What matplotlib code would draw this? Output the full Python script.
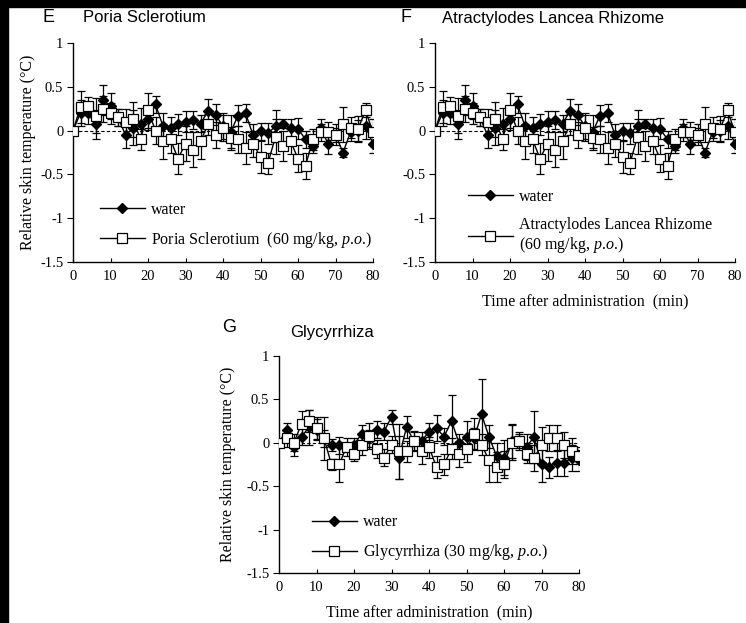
import matplotlib
matplotlib.use("Agg")
import matplotlib.pyplot as plt
from matplotlib.patches import Rectangle
from matplotlib.lines import Line2D
import numpy as np

plt.rcParams['font.family'] = 'Liberation Serif'
plt.rcParams['mathtext.fontset'] = 'custom'
plt.rcParams['mathtext.rm'] = 'Liberation Serif'
plt.rcParams['mathtext.it'] = 'Liberation Serif:italic'
plt.rcParams['axes.unicode_minus'] = False

time = np.arange(0, 82, 2)

# panels E and F (same values in the figure)
water_ef = [0, 0.2, 0.2, 0.07, 0.35, 0.28, 0.15, -0.05, 0.03, 0.08, 0.13, 0.3, 0.05, 0.03,
            0.07, 0.1, 0.12, 0.08, 0.22, 0.18, 0.05, -0.02, 0.17, 0.2, -0.05, -0.01, -0.03,
            0.05, 0.08, 0.03, 0.02, -0.1, -0.18, 0.03, -0.15, -0.05, -0.25, -0.02, 0.0, 0.05, -0.15]
water_ef_err = [0, 0.15, 0.12, 0.17, 0.17, 0.15, 0.1, 0.15, 0.2, 0.18, 0.12, 0.1, 0.15, 0.12,
                0.12, 0.12, 0.1, 0.1, 0.14, 0.12, 0.15, 0.2, 0.12, 0.1, 0.12, 0.1, 0.12,
                0.18, 0.05, 0.1, 0.12, 0.1, 0.08, 0.1, 0.12, 0.08, 0.05, 0.1, 0.12, 0.15, 0.1]
treat_ef = [0, 0.27, 0.28, 0.17, 0.25, 0.2, 0.15, 0.1, 0.13, -0.1, 0.23, 0.0, -0.12, -0.1,
            -0.32, -0.15, -0.22, -0.12, 0.07, -0.05, 0.03, -0.08, -0.1, -0.2, -0.15, -0.3, -0.37,
            -0.07, -0.18, -0.12, -0.32, -0.4, -0.1, -0.02, -0.02, -0.05, 0.07, 0.03, 0.02, 0.23, -0.02]
treat_ef_err = [0, 0.18, 0.1, 0.2, 0.15, 0.12, 0.1, 0.15, 0.2, 0.12, 0.2, 0.15, 0.2, 0.15,
                0.18, 0.2, 0.2, 0.2, 0.12, 0.15, 0.15, 0.12, 0.15, 0.18, 0.15, 0.18, 0.12,
                0.2, 0.17, 0.15, 0.15, 0.15, 0.12, 0.1, 0.12, 0.12, 0.2, 0.12, 0.15, 0.08, 0.15]

# panel G
water_g = [0, 0.15, -0.05, 0.07, 0.18, 0.15, 0.05, -0.03, -0.03, -0.05, -0.02, 0.1, 0.05, 0.15,
           0.13, 0.3, -0.17, 0.18, 0.02, 0.02, 0.13, 0.17, 0.07, 0.25, 0.0, 0.07, 0.05,
           0.33, 0.07, -0.15, -0.17, 0.02, 0.02, -0.05, 0.07, -0.25, -0.28, -0.23, -0.23, -0.18, -0.2]
water_g_err = [0, 0.08, 0.1, 0.1, 0.2, 0.12, 0.1, 0.07, 0.1, 0.1, 0.08, 0.1, 0.1, 0.1,
               0.1, 0.08, 0.25, 0.13, 0.1, 0.1, 0.1, 0.15, 0.1, 0.3, 0.1, 0.18, 0.12,
               0.4, 0.13, 0.15, 0.2, 0.2, 0.1, 0.15, 0.3, 0.2, 0.12, 0.15, 0.15, 0.15, 0.12]
treat_g = [0, 0.05, 0.0, 0.22, 0.25, 0.17, 0.05, -0.25, -0.25, -0.05, -0.13, -0.02, 0.08, -0.07,
           -0.17, -0.02, -0.1, -0.1, 0.02, -0.1, -0.05, -0.28, -0.25, -0.07, -0.13, -0.07, 0.1,
           -0.02, -0.2, -0.28, -0.25, 0.0, 0.02, -0.13, -0.18, -0.02, 0.05, 0.05, -0.02, -0.1, -0.15]
treat_g_err = [0, 0.1, 0.1, 0.15, 0.13, 0.13, 0.25, 0.06, 0.2, 0.05, 0.08, 0.12, 0.15, 0.1,
               0.1, 0.1, 0.32, 0.12, 0.12, 0.15, 0.12, 0.13, 0.12, 0.12, 0.15, 0.15, 0.18,
               0.12, 0.25, 0.17, 0.15, 0.2, 0.08, 0.1, 0.15, 0.2, 0.15, 0.15, 0.15, 0.15, 0.1]

yticks = [1, 0.5, 0, -0.5, -1, -1.5]
ytick_labels = ['1', '0.5', '0', '-0.5', '-1', '-1.5']
xticks = [0, 10, 20, 30, 40, 50, 60, 70, 80]

W, H = 746, 623
fig = plt.figure(figsize=(W / 100, H / 100), dpi=100)
fig.patch.set_facecolor('white')
fig.add_artist(Rectangle((0, 1 - 7 / H), 1, 7 / H, transform=fig.transFigure, color='black', zorder=10))
fig.add_artist(Rectangle((0, 0), 8 / W, 1, transform=fig.transFigure, color='black', zorder=10))

water_style = dict(color='black', lw=1, marker='D', ms=5.5, mfc='black', mec='black')
treat_style = dict(color='black', lw=1, marker='s', ms=7, mfc='white', mec='black', mew=0.9)


def px_axes(left, right, top, bottom):
    return fig.add_axes([left / W, 1 - bottom / H, (right - left) / W, (bottom - top) / H])


def panel(ax, water, water_err, treat, treat_err, label, legend_anchor, xlabel, ylabel_pad):
    ax.axhline(0, color='black', lw=0.8, ls=(0, (3, 2)), zorder=1)
    ax.errorbar(time, water, yerr=water_err, elinewidth=0.9, capsize=3, capthick=0.9,
                zorder=3, **water_style)
    ax.errorbar(time, treat, yerr=treat_err, elinewidth=0.9, capsize=3, capthick=0.9,
                zorder=4, **treat_style)
    ax.set_xlim(0, 80)
    ax.set_ylim(-1.5, 1)
    ax.set_yticks(yticks)
    ax.set_yticklabels(ytick_labels)
    ax.set_xticks(xticks)
    ax.spines['top'].set_visible(False)
    ax.spines['right'].set_visible(False)
    ax.spines['left'].set_linewidth(1)
    ax.spines['bottom'].set_linewidth(1)
    ax.tick_params(axis='y', direction='out', length=4, labelsize=10.5, pad=3)
    ax.tick_params(axis='x', direction='in', length=3, labelsize=10.5, pad=6)
    if xlabel:
        ax.set_xlabel('Time after administration  (min)', fontsize=11.5, labelpad=7)
    if ylabel_pad is not None:
        ax.set_ylabel('Relative skin temperature (°C)', fontsize=11.5, labelpad=ylabel_pad)
    handles = [Line2D([], [], **water_style), Line2D([], [], **treat_style)]
    ax.legend(handles, ['water', label], loc='upper left', bbox_to_anchor=legend_anchor,
              frameon=False, fontsize=11.5, handlelength=2.8, handletextpad=0.4, borderpad=0,
              borderaxespad=0, labelspacing=0.75)


# panel E
axE = px_axes(73, 373, 43, 262)
panel(axE, water_ef, water_ef_err, treat_ef, treat_ef_err,
      r'Poria Sclerotium  (60 mg/kg, $\it{p}$.$\it{o}$.)', (0.09, 0.276), False, 3)
fig.text(42 / W, 1 - 18 / H, 'E', family='Liberation Sans', fontsize=13, va='center', ha='left')
fig.text(83 / W, 1 - 18 / H, 'Poria Sclerotium', family='Liberation Sans', fontsize=12,
         va='center', ha='left')

# panel F
axF = px_axes(435, 735, 43, 262)
panel(axF, water_ef, water_ef_err, treat_ef, treat_ef_err,
      'Atractylodes Lancea Rhizome\n' + r'(60 mg/kg, $\it{p}$.$\it{o}$.)', (0.11, 0.335), True, None)
fig.text(400 / W, 1 - 18 / H, 'F', family='Liberation Sans', fontsize=13, va='center', ha='left')
fig.text(442 / W, 1 - 18 / H, 'Atractylodes Lancea Rhizome', family='Liberation Sans',
         fontsize=12, va='center', ha='left')

# panel G
axG = px_axes(279, 579, 356, 573)
panel(axG, water_g, water_g_err, treat_g, treat_g_err,
      r'Glycyrrhiza (30 mg/kg, $\it{p}$.$\it{o}$.)', (0.11, 0.27), True, 7)
fig.text(222 / W, 1 - 327 / H, 'G', family='Liberation Sans', fontsize=13, va='center', ha='left')
fig.text(290 / W, 1 - 333 / H, 'Glycyrrhiza', family='Liberation Sans', fontsize=12,
         va='center', ha='left')

fig.savefig('out.png', dpi=100)
